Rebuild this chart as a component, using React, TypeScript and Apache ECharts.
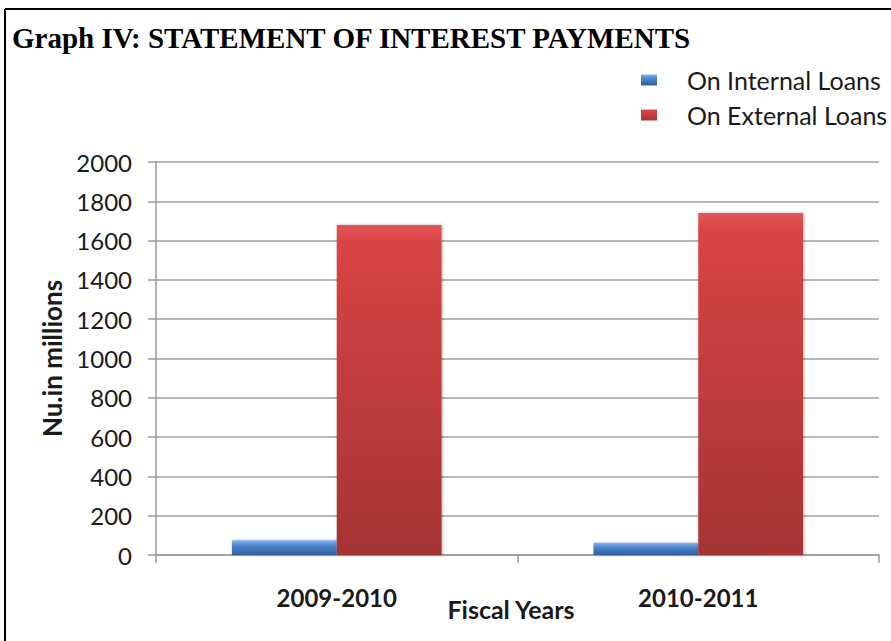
import React, { useEffect, useRef } from "react";
import * as echarts from "echarts";

const categories = ["2009-2010", "2010-2011"];
const seriesNames = ["On Internal Loans", "On External Loans"];
const internalLoans = [75, 62];
const externalLoans = [1680, 1740];
const yMin = 0;
const yMax = 2000;
const yInterval = 200;

const labelFont = "Lato, 'Noto Sans', sans-serif";

export default function App() {
  const ref = useRef<HTMLDivElement>(null);
  useEffect(() => {
    if (!ref.current) return;
    const chart = echarts.init(ref.current, null, { renderer: "svg" });
    const blue = new echarts.graphic.LinearGradient(0, 0, 0, 1, [
      { offset: 0, color: "#86b7ee" },
      { offset: 0.35, color: "#4f86cf" },
      { offset: 1, color: "#2f5f9e" },
    ]);
    const red = new echarts.graphic.LinearGradient(0, 0, 0, 1, [
      { offset: 0, color: "#e25656" },
      { offset: 0.05, color: "#d94444" },
      { offset: 1, color: "#a53434" },
    ]);
    chart.setOption({
      animation: false,
      backgroundColor: "#ffffff",
      graphic: [
        {
          type: "line",
          shape: { x1: 5, y1: 9, x2: 891, y2: 9 },
          style: { stroke: "#000", lineWidth: 2 },
        },
        {
          type: "line",
          shape: { x1: 5, y1: 9, x2: 5, y2: 641 },
          style: { stroke: "#000", lineWidth: 2 },
        },
        {
          type: "text",
          left: 12,
          top: 23,
          style: {
            text: "Graph IV: STATEMENT OF INTEREST PAYMENTS",
            fontFamily: "'Liberation Serif', 'DejaVu Serif', serif",
            fontWeight: "bold",
            fontSize: 29,
            fill: "#000",
          },
        },
      ],
      legend: {
        orient: "vertical",
        left: 636,
        top: 61,
        itemWidth: 16,
        itemHeight: 11,
        itemGap: 7,
        icon: "rect",
        data: seriesNames,
        textStyle: {
          fontFamily: labelFont,
          fontSize: 25,
          lineHeight: 28,
          color: "#1a1a1a",
          padding: [0, 0, 0, 25],
        },
      },
      grid: { left: 156, right: 12, top: 162, bottom: 86, containLabel: false },
      xAxis: {
        type: "category",
        data: categories,
        name: "Fiscal Years",
        nameLocation: "middle",
        nameGap: 41,
        nameMoveOverlap: false,
        nameTextStyle: {
          fontFamily: labelFont,
          fontSize: 25,
          fontWeight: "bold",
          color: "#1a1a1a",
          padding: [0, 13, 0, 0],
        },
        axisLine: { lineStyle: { color: "#9a9a9a", width: 1.5 } },
        axisTick: { show: true, length: 8, lineStyle: { color: "#9a9a9a", width: 1.5 } },
        axisLabel: {
          margin: 30,
          fontFamily: labelFont,
          fontSize: 24,
          fontWeight: "bold",
          color: "#1a1a1a",
        },
      },
      yAxis: {
        type: "value",
        min: yMin,
        max: yMax,
        interval: yInterval,
        name: "Nu.in millions",
        nameLocation: "middle",
        nameGap: 91,
        nameMoveOverlap: false,
        nameTextStyle: {
          fontFamily: labelFont,
          fontSize: 26,
          fontWeight: "bold",
          color: "#1a1a1a",
        },
        axisLine: { show: true, lineStyle: { color: "#9a9a9a", width: 1.5 } },
        axisTick: { show: true, length: 8, lineStyle: { color: "#9a9a9a", width: 1.5 } },
        splitLine: { lineStyle: { color: "#a0a0a0", width: 1.5 } },
        axisLabel: {
          margin: 24,
          fontFamily: labelFont,
          fontSize: 24,
          color: "#1a1a1a",
          formatter: (v: number) => String(v),
        },
      },
      series: [
        {
          name: seriesNames[0],
          type: "bar",
          data: internalLoans,
          barGap: "0%",
          barCategoryGap: "42%",
          itemStyle: {
            color: blue,
            shadowBlur: 3,
            shadowColor: "rgba(0,0,0,0.25)",
            shadowOffsetX: 1,
          },
        },
        {
          name: seriesNames[1],
          type: "bar",
          data: externalLoans,
          barGap: "0%",
          barCategoryGap: "42%",
          itemStyle: {
            color: red,
            shadowBlur: 3,
            shadowColor: "rgba(0,0,0,0.3)",
            shadowOffsetX: 1,
          },
        },
      ],
    });
    return () => chart.dispose();
  }, []);
  return (
    <div
      ref={ref}
      style={{ position: "fixed", left: 0, top: 0, width: 891, height: 641 }}
    />
  );
}
